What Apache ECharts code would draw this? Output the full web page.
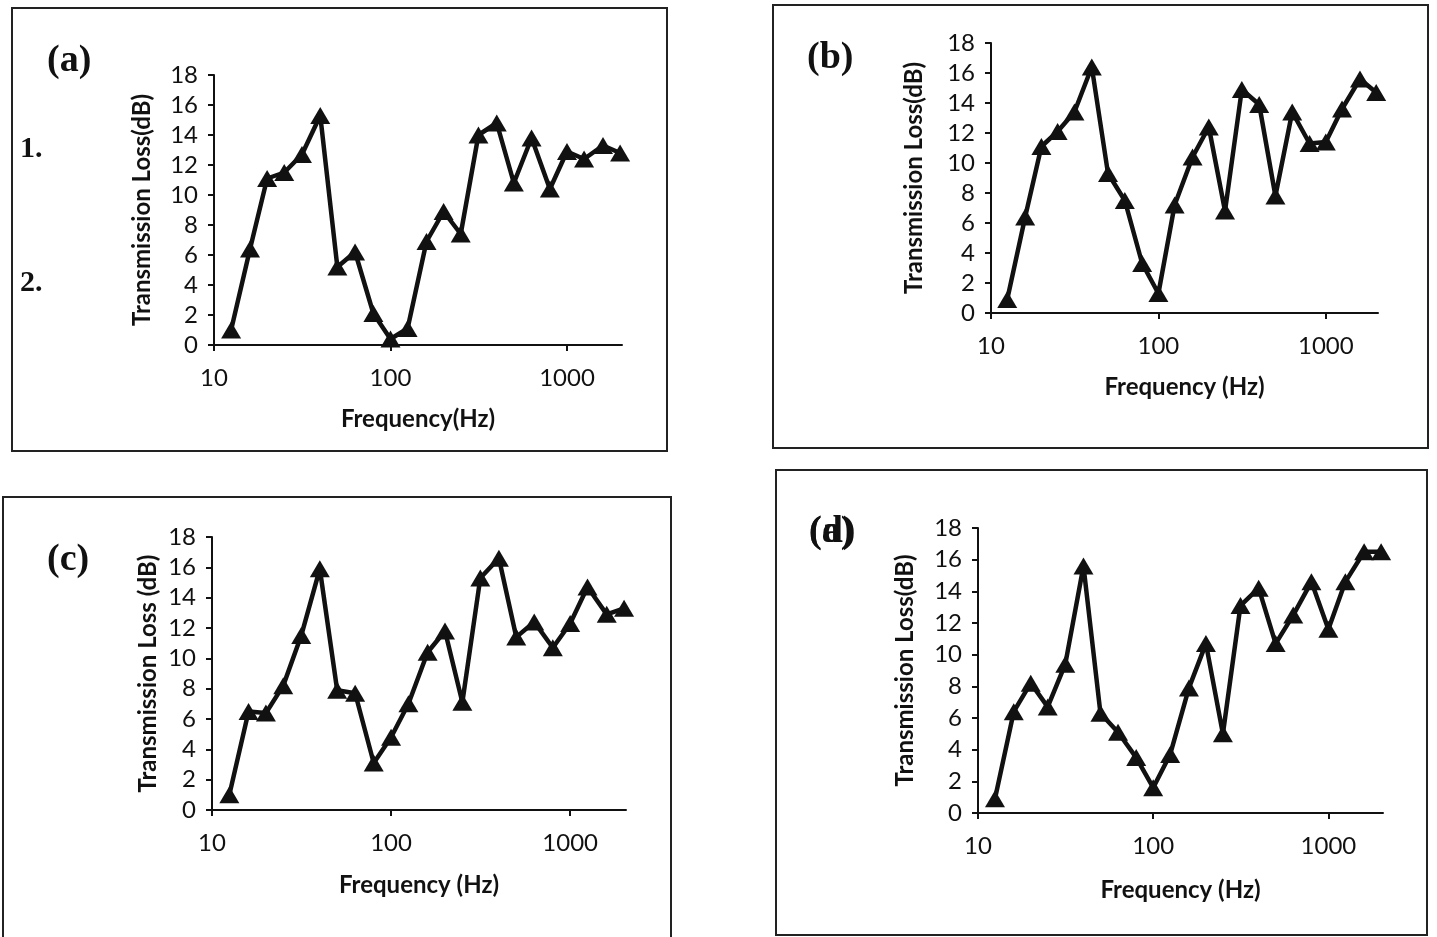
<!DOCTYPE html>
<html>
<head>
<meta charset="utf-8">
<script src="https://cdn.jsdelivr.net/npm/echarts@6/dist/echarts.min.js"></script>
<style>
  html, body { margin: 0; padding: 0; background: #fff; }
  #main { width: 1437px; height: 937px; }
</style>
</head>
<body>
<div id="main"></div>
<script>
// 1/3 octave band centre frequencies (Hz)
const freqs = [12.5, 16, 20, 25, 31.5, 40, 50, 63, 80, 100, 125, 160, 200, 250, 315, 400, 500, 630, 800, 1000, 1250, 1600, 2000];

// transmission loss (dB) per panel
const lossA = [1.0, 6.4, 11.1, 11.5, 12.7, 15.3, 5.2, 6.2, 2.1, 0.4, 1.1, 6.9, 8.9, 7.4, 14.0, 14.8, 10.8, 13.8, 10.4, 12.9, 12.4, 13.3, 12.8];
const lossB = [0.9, 6.4, 11.1, 12.1, 13.4, 16.4, 9.3, 7.5, 3.3, 1.3, 7.2, 10.4, 12.4, 6.8, 14.9, 13.9, 7.8, 13.4, 11.3, 11.4, 13.6, 15.6, 14.7];
const lossC = [1.0, 6.5, 6.4, 8.2, 11.5, 15.9, 7.9, 7.7, 3.1, 4.8, 7.0, 10.4, 11.8, 7.1, 15.3, 16.6, 11.4, 12.4, 10.7, 12.3, 14.7, 12.9, 13.3];
const lossD = [0.9, 6.4, 8.2, 6.7, 9.4, 15.6, 6.3, 5.1, 3.5, 1.6, 3.7, 7.9, 10.7, 5.0, 13.1, 14.2, 10.7, 12.5, 14.6, 11.6, 14.6, 16.5, 16.5];

// axis ticks
const xTicks = [10, 100, 1000];
const yMin = 0, yMax = 18, yStep = 2;
const xMin = 10, xMax = 2050;

const yTitles = ['Transmission Loss(dB)', 'Transmission Loss(dB)', 'Transmission Loss (dB)', 'Transmission Loss(dB)'];
const xTitles = ['Frequency(Hz)', 'Frequency (Hz)', 'Frequency (Hz)', 'Frequency (Hz)'];
const series = [lossA, lossB, lossC, lossD];

// layout of each panel (pixels)
const panels = [
    { left: 214, top: 75, width: 408, height: 270, yGap: 60, xGap: 62 },
    { left: 991, top: 43, width: 387, height: 270, yGap: 65, xGap: 62 },
    { left: 212, top: 537, width: 414, height: 273, yGap: 52, xGap: 63 },
    { left: 978, top: 528, width: 405, height: 285, yGap: 61, xGap: 65 }
];

const ink = '#111';
const tickFont = 'Lato, "Open Sans", sans-serif';

const myChart = echarts.init(document.getElementById('main'));

const grids = [], xAxes = [], yAxes = [], lines = [];
panels.forEach(function (p, i) {
    grids.push({ left: p.left, top: p.top, width: p.width, height: p.height, containLabel: false });
    xAxes.push({
        type: 'log',
        logBase: 10,
        gridIndex: i,
        min: xMin,
        max: xMax,
        name: xTitles[i],
        nameLocation: 'middle',
        nameGap: p.xGap,
        nameTextStyle: { color: ink, fontFamily: tickFont, fontWeight: 'bold', fontSize: 24 },
        axisLine: { lineStyle: { color: ink, width: 2 } },
        axisTick: { show: true, length: 6, lineStyle: { color: ink, width: 2 }, customValues: xTicks },
        axisLabel: {
            color: ink, fontFamily: tickFont, fontSize: 24, margin: 21, customValues: xTicks,
            formatter: function (v) { return String(Math.round(v)); }
        },
        splitLine: { show: false },
        minorTick: { show: false }
    });
    yAxes.push({
        type: 'value',
        gridIndex: i,
        min: yMin,
        max: yMax,
        interval: yStep,
        name: yTitles[i],
        nameLocation: 'middle',
        nameGap: p.yGap,
        nameTextStyle: { color: ink, fontFamily: tickFont, fontWeight: 'bold', fontSize: 24 },
        axisLine: { show: true, lineStyle: { color: ink, width: 2 } },
        axisTick: { show: true, length: 6, lineStyle: { color: ink, width: 2 } },
        axisLabel: { color: ink, fontFamily: tickFont, fontSize: 24, margin: 16 },
        splitLine: { show: false }
    });
    lines.push({
        type: 'line',
        xAxisIndex: i,
        yAxisIndex: i,
        data: freqs.map(function (f, k) { return [f, series[i][k]]; }),
        symbol: 'triangle',
        symbolSize: [20, 17],
        showSymbol: true,
        showAllSymbol: true,
        itemStyle: { color: ink },
        lineStyle: { color: ink, width: 4.5 },
        animation: false,
        z: 3
    });
});

// panel frames and letters
const serif = '"Liberation Serif", "DejaVu Serif", serif';
function letter(txt, x, y, size) {
    return {
        type: 'text', left: x, top: y,
        style: { text: txt, font: 'bold ' + size + 'px ' + serif, fill: ink }
    };
}
function frame(x1, y1, x2, y2) {
    return {
        type: 'rect',
        shape: { x: x1, y: y1, width: x2 - x1, height: y2 - y1 },
        style: { fill: null, stroke: '#222', lineWidth: 2 },
        silent: true
    };
}

const option = {
    backgroundColor: '#fff',
    animation: false,
    grid: grids,
    xAxis: xAxes,
    yAxis: yAxes,
    series: lines,
    graphic: [
        frame(12, 8, 667, 451),
        frame(773, 5, 1428, 448),
        frame(3, 497, 671, 960),
        frame(776, 470, 1427, 935),
        letter('(a)', 47, 42, 38),
        letter('(b)', 807, 39, 38),
        letter('(c)', 47, 541, 38),
        letter('(a)', 809, 513, 38),
        letter('(d)', 809, 513, 38),
        letter('1.', 20, 134, 30),
        letter('2.', 20, 268, 30)
    ]
};

myChart.setOption(option);
</script>
</body>
</html>
